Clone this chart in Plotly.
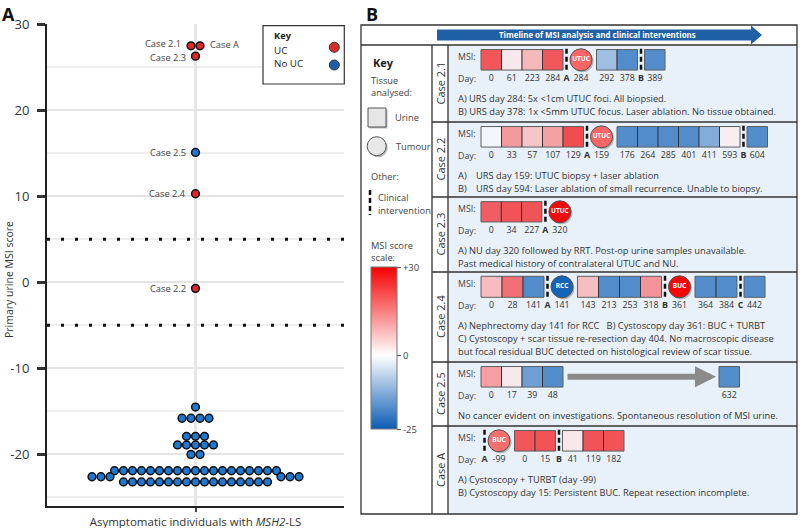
import plotly.graph_objects as go

W, H = 800, 528
FONT = "Open Sans"

# ---------------- Panel A data ----------------
case_labels = ["Case 2.1", "Case A", "Case 2.3", "Case 2.5", "Case 2.4", "Case 2.2"]
case_scores = [27.5, 27.5, 26.3, 15.1, 10.3, -0.7]
case_has_uc = [True, True, True, False, True, True]
cohort_scores = [
    -14.5,
    -15.8, -15.8, -15.8, -15.8,
    -17.9, -17.9, -17.9,
    -18.9, -18.9, -18.9, -18.9, -18.9,
    -20.0, -20.0,
    -21.9, -21.9, -21.9, -21.9, -21.9, -21.9, -21.9, -21.9, -21.9, -21.9,
    -21.9, -21.9, -21.9, -21.9, -21.9, -21.9, -21.9, -21.9, -21.9,
    -22.6, -22.6, -22.6, -22.6, -22.6, -22.6,
    -23.2, -23.2, -23.2, -23.2, -23.2, -23.2, -23.2, -23.2, -23.2,
    -23.2, -23.2, -23.2, -23.2, -23.2, -23.2, -23.2, -23.2,
]
threshold_lines = [5, -5]
y_range = [-26, 30]
y_ticks = [-20, -10, 0, 10, 20, 30]
x_tick_text = "Asymptomatic individuals with <i>MSH2</i>-LS"
y_title = "Primary urine MSI score"

# label placement style for the named cases (side, vertical nudge in px)
case_label_side = ["left", "right", "left", "left", "left", "left"]
case_label_nudge = [2, 1, -1, 0, 0, 0]

# ---------------- Panel B data ----------------
case_ids = ["Case 2.1", "Case 2.2", "Case 2.3", "Case 2.4", "Case 2.5", "Case A"]
# item kinds: U urine sample, T tumour sample, I clinical intervention, R gap arrow
kinds = [
    "UUUUITUUIU",
    "UUUUUITUUUUUUIU",
    "UUUIT",
    "UUUITUUUUITUUIU",
    "UUUURU",
    "ITUUIUUU",
]
msi = [
    [27.5, 3, 11, 27, None, 18, -13, -24, None, -24],
    [-0.7, 16, 9, 15, 29, None, 18, -24, -24, -24, -24, -17, 2, None, -24],
    [26.3, 28, 28, None, 29],
    [10.3, 23, -24, None, -24, 10, -24, -24, 17, None, 29, -24, -24, None, -24],
    [15.1, 3, -20, -24, None, -24],
    [None, 17, 27.5, 28, None, 3, 28, 28],
]
days = [
    ["0", "61", "223", "284", "A", "284", "292", "378", "B", "389"],
    ["0", "33", "57", "107", "129", "A", "159", "176", "264", "285", "401", "411", "593", "B", "604"],
    ["0", "34", "227", "A", "320"],
    ["0", "28", "141", "A", "141", "143", "213", "253", "318", "B", "361", "364", "384", "C", "442"],
    ["0", "17", "39", "48", "", "632"],
    ["A", "-99", "0", "15", "B", "41", "119", "182"],
]
tumour_types = [["UTUC"], ["UTUC"], ["UTUC"], ["RCC", "BUC"], [], ["BUC"]]
notes = [
    ["A) URS day 284: 5x &lt;1cm UTUC foci. All biopsied.",
     "B) URS day 378: 1x &lt;5mm UTUC focus. Laser ablation. No tissue obtained."],
    ["A)\tURS day 159: UTUC biopsy + laser ablation",
     "B)\tURS day 594: Laser ablation of small recurrence. Unable to biopsy."],
    ["A) NU day 320 followed by RRT. Post-op urine samples unavailable.",
     "Past medical history of contralateral UTUC and NU."],
    ["A) Nephrectomy day 141 for RCC   B) Cystoscopy day 361: BUC + TURBT",
     "C) Cystoscopy + scar tissue re-resection day 404. No macroscopic disease",
     "but focal residual BUC detected on histological review of scar tissue."],
    ["No cancer evident on investigations. Spontaneous resolution of MSI urine."],
    ["A) Cystoscopy + TURBT (day -99)",
     "B) Cystoscopy day 15: Persistent BUC. Repeat resection incomplete."],
]
msi_scale = [-25, 0, 30]
msi_scale_text = ["-25", "0", "+30"]

# ---------------- Layout geometry (pixels) ----------------
A_left, A_right, A_top, A_bottom = 47, 344, 24.3, 506
B_left, B_top, B_right, B_bottom = 361, 25, 797, 514
row_tops = [45, 122, 197, 272, 362, 426]
row_box_w = [20.5, 20.5, 20.3, 21, 20.5, 20.5]
key_col_x, case_col_x = 432, 448

# ---------------- Beeswarm offsets (panel A) ----------------
ppu_y = (A_bottom - A_top) / (y_range[1] - y_range[0])
x_half_px = (A_right - A_left) / 2
SLOT, MIN_D = 9.0, 7.2
all_scores = case_scores + cohort_scores
groups = {}
for i, v in enumerate(all_scores):
    groups.setdefault(v, []).append(i)
order = sorted(groups, key=lambda v: (-len(groups[v]), v))
placed = []
offsets = [0.0] * len(all_scores)


def fits(xs, ypx):
    for x in xs:
        for px, py in placed:
            if (x - px) ** 2 + (ypx - py) ** 2 < MIN_D ** 2:
                return False
    return True


for v in order:
    idx = groups[v]
    n = len(idx)
    ypx = -v * ppu_y
    xs = [(k - (n - 1) / 2) * SLOT for k in range(n)]
    if not fits(xs, ypx):
        s = SLOT / 2
        while True:
            nl = n // 2
            nr = n - nl
            xs = [-(s + k * SLOT) for k in range(nl)] + [s + k * SLOT for k in range(nr)]
            if fits(xs, ypx):
                break
            s += SLOT / 2
    for i, x in zip(idx, xs):
        offsets[i] = x / x_half_px
        placed.append((x, ypx))

case_x = offsets[:len(case_scores)]
cohort_x = offsets[len(case_scores):]

RED, BLUE = "#e0262a", "#1f77d0"
fig = go.Figure()

uc_idx = [i for i, u in enumerate(case_has_uc) if u]
nouc_idx = [i for i, u in enumerate(case_has_uc) if not u]
mk = dict(size=7.8, line=dict(color="#111", width=1.5))

fig.add_trace(go.Scatter(
    x=cohort_x, y=cohort_scores, mode="markers", xaxis="x", yaxis="y",
    marker=dict(color=BLUE, **mk), hoverinfo="skip", showlegend=False))
fig.add_trace(go.Scatter(
    x=[case_x[i] for i in nouc_idx], y=[case_scores[i] for i in nouc_idx], mode="markers",
    xaxis="x", yaxis="y", marker=dict(color=BLUE, **mk), hoverinfo="skip", showlegend=False))
fig.add_trace(go.Scatter(
    x=[case_x[i] for i in uc_idx], y=[case_scores[i] for i in uc_idx], mode="markers",
    xaxis="x", yaxis="y", marker=dict(color=RED, **mk), hoverinfo="skip", showlegend=False))

shapes = []
annotations = []

for lab, cx, cs, side, nud in zip(case_labels, case_x, case_scores, case_label_side, case_label_nudge):
    annotations.append(dict(x=cx, y=cs, xref="x", yref="y", text=lab, showarrow=False,
                            xanchor="right" if side == "left" else "left", yanchor="middle",
                            xshift=-8 if side == "left" else 8, yshift=nud,
                            font=dict(size=9.3, color="#444", family=FONT)))

for t in threshold_lines:
    shapes.append(dict(type="line", xref="x domain", yref="y", x0=0, x1=1, y0=t, y1=t,
                       line=dict(color="#111", width=3, dash="3px,11px"), layer="above"))


def text(x, y, s, size=9.3, color="#333", xanchor="left", angle=0, yanchor="middle"):
    annotations.append(dict(x=x, y=y, xref="x2", yref="y2", text=s, showarrow=False,
                            xanchor=xanchor, yanchor=yanchor, textangle=angle,
                            font=dict(size=size, color=color, family=FONT)))


# Panel labels and Y title
text(8, 0, "<b>A</b>", size=18, color="#111", xanchor="center", yanchor="top")
text(372, 0, "<b>B</b>", size=18, color="#111", xanchor="center", yanchor="top")
text(9, 280, y_title, size=10.5, color="#333", xanchor="center", angle=-90)

# Panel A key
shapes.append(dict(type="rect", xref="x2", yref="y2", x0=263, x1=344.3, y0=25.7, y1=84,
                   line=dict(color="#333", width=1.2), fillcolor="white", layer="above"))
text(271.5, 35.7, "<b>Key</b>", size=9.3, color="#222")
text(271.5, 50.7, "UC", size=9.8, color="#222")
text(271.5, 63.3, "No UC", size=9.8, color="#222")
for cy, col in [(47.3, "#d32f2f"), (65, "#1d5ea8")]:
    shapes.append(dict(type="circle", xref="x2", yref="y2", x0=329.3, x1=339.3, y0=cy - 5, y1=cy + 5,
                       fillcolor=col, line=dict(color="#333", width=1), layer="above"))

# ---------------- Panel B frame ----------------
shapes.append(dict(type="rect", xref="x2", yref="y2", x0=case_col_x, x1=B_right, y0=row_tops[0], y1=B_bottom,
                   fillcolor="#e8f0fa", line=dict(width=0), layer="below"))
shapes.append(dict(type="rect", xref="x2", yref="y2", x0=B_left, x1=B_right, y0=B_top, y1=B_bottom,
                   line=dict(color="#333", width=1.3), layer="below"))
shapes.append(dict(type="line", xref="x2", yref="y2", x0=B_left, x1=B_right, y0=row_tops[0], y1=row_tops[0],
                   line=dict(color="#333", width=1.3), layer="below"))
for xv in (key_col_x, case_col_x):
    shapes.append(dict(type="line", xref="x2", yref="y2", x0=xv, x1=xv, y0=row_tops[0], y1=B_bottom,
                       line=dict(color="#333", width=1.3), layer="below"))
for yt in row_tops[1:]:
    shapes.append(dict(type="line", xref="x2", yref="y2", x0=key_col_x, x1=B_right, y0=yt, y1=yt,
                       line=dict(color="#333", width=1.3), layer="below"))

# Header arrow
shapes.append(dict(type="path", xref="x2", yref="y2",
                   path="M437,29.5 L751,29.5 L751,25.5 L762,35 L751,44.5 L751,40.5 L437,40.5 Z",
                   fillcolor="#1f5fa6", line=dict(width=0), layer="below"))
text(597, 35, "<b>Timeline of MSI analysis and clinical interventions</b>", size=7.9, color="white",
     xanchor="center")

# Key column of panel B
text(371, 62, "<b>Key</b>", size=11, color="#222")
text(368.5, 80, "Tissue", size=9.3, color="#444")
text(368.5, 92.3, "analysed:", size=9.3, color="#444")
shapes.append(dict(type="rect", xref="x2", yref="y2", x0=369.5, x1=387.5, y0=109.5, y1=128.5,
                   fillcolor="#b8b8b8", line=dict(width=0), layer="below"))
shapes.append(dict(type="rect", xref="x2", yref="y2", x0=368, x1=386, y0=108, y1=127,
                   fillcolor="#e6e6e6", line=dict(color="#555", width=1), layer="below"))
text(393, 117.3, "Urine", size=9.3, color="#444")
shapes.append(dict(type="circle", xref="x2", yref="y2", x0=368.7, x1=387.7, y0=138.2, y1=157.2,
                   fillcolor="#b8b8b8", line=dict(width=0), layer="below"))
shapes.append(dict(type="circle", xref="x2", yref="y2", x0=367.2, x1=386.2, y0=136.7, y1=155.7,
                   fillcolor="#e8e8e8", line=dict(color="#555", width=1), layer="below"))
text(393.5, 146, "Tumour", size=9.3, color="#444")
text(368.5, 176, "Other:", size=9.3, color="#444")
shapes.append(dict(type="line", xref="x2", yref="y2", x0=370, x1=370, y0=190, y1=215,
                   line=dict(color="#111", width=2.5, dash="5px,3px"), layer="below"))
text(375.5, 197.7, "Clinical", size=9.3, color="#444")
text(375.5, 210.7, "intervention", size=9.3, color="#444")
text(368.5, 245, "MSI score", size=9.3, color="#444")
text(368.5, 257.3, "scale:", size=9.3, color="#444")

# ---------------- Panel B rows ----------------
SPACING = {"U": (0, None, 0), "I": (3.5, 0, 3.5), "T": (0, 22, 4.5), "R": (3, 150, 3)}

box_x, box_y, box_c, box_s = [], [], [], []
tum_x, tum_y, tum_c, tum_t = [], [], [], []
day_x, day_y, day_t = [], [], []

for r, cid in enumerate(case_ids):
    top = row_tops[r]
    bottom = row_tops[r + 1] if r + 1 < len(row_tops) else B_bottom
    cy = top + 14.8
    dy = top + 33.5
    bw = row_box_w[r]
    text(440, (top + bottom) / 2, cid, size=11, color="#333", xanchor="center", angle=-90)
    text(455.5, cy - 3, "MSI:", size=8.8, color="#444")
    text(455.5, dy, "Day:", size=8.8, color="#444")
    x = 481
    tcount = 0
    for k, v, d in zip(kinds[r], msi[r], days[r]):
        lead, w, trail = SPACING[k]
        if w is None:
            w = bw
        x += lead
        cx = x + w / 2
        if k == "U":
            box_x.append(cx); box_y.append(cy); box_c.append(v); box_s.append(bw)
        elif k == "T":
            tum_x.append(cx); tum_y.append(cy); tum_c.append(v)
            tum_t.append("<b>%s</b>" % tumour_types[r][tcount]); tcount += 1
        elif k == "I":
            shapes.append(dict(type="line", xref="x2", yref="y2", x0=cx, x1=cx, y0=cy - 11, y1=cy + 13,
                               line=dict(color="#111", width=2.5, dash="5px,3px"), layer="below"))
        elif k == "R":
            annotations.append(dict(x=x + w, y=cy, ax=x, ay=cy, xref="x2", yref="y2", axref="x2", ayref="y2",
                                    text="", showarrow=True, arrowhead=2, arrowsize=0.7, arrowwidth=6,
                                    arrowcolor="#8a8a8a"))
        if d:
            day_x.append(cx); day_y.append(dy)
            day_t.append("<b>%s</b>" % d if k == "I" else d)
        x += w + trail
    for j, line in enumerate(notes[r]):
        ny = top + 53.5 + j * 12.8
        if "\t" in line:
            a, b = line.split("\t")
            text(455.5, ny, a)
            text(474, ny, b)
        else:
            text(455.5, ny, line)

fig.add_trace(go.Scatter(
    x=box_x, y=box_y, mode="markers", xaxis="x2", yaxis="y2",
    marker=dict(symbol="square", size=box_s, color=box_c, coloraxis="coloraxis",
                line=dict(color="#222", width=1)),
    hoverinfo="skip", showlegend=False))
fig.add_trace(go.Scatter(
    x=[v + 1.5 for v in tum_x], y=[v + 1.5 for v in tum_y], mode="markers", xaxis="x2", yaxis="y2",
    marker=dict(size=22, color="rgba(0,0,0,0.25)"), hoverinfo="skip", showlegend=False))
fig.add_trace(go.Scatter(
    x=tum_x, y=tum_y, mode="markers+text", xaxis="x2", yaxis="y2", text=tum_t,
    textposition="middle center", textfont=dict(size=6.5, color="white", family=FONT),
    marker=dict(size=22, color=tum_c, coloraxis="coloraxis", line=dict(color="#555", width=1)),
    hoverinfo="skip", showlegend=False))
fig.add_trace(go.Scatter(
    x=day_x, y=day_y, mode="text", xaxis="x2", yaxis="y2", text=day_t,
    textposition="middle center", textfont=dict(size=8.8, color="#333", family=FONT),
    hoverinfo="skip", showlegend=False))

fig.update_layout(
    width=W, height=H, margin=dict(l=0, r=0, t=0, b=0, pad=0, autoexpand=False),
    paper_bgcolor="white", plot_bgcolor="rgba(0,0,0,0)",
    font=dict(family=FONT, color="#333"),
    showlegend=False,
    xaxis=dict(domain=[A_left / W, A_right / W], range=[-1, 1], anchor="y", automargin=False,
               showline=True, linecolor="#222", linewidth=2, mirror=False,
               ticks="outside", ticklen=4, tickwidth=2, tickcolor="#444",
               tickvals=[0], ticktext=[x_tick_text], tickfont=dict(size=11.5, color="#333"),
               showgrid=True, gridcolor="#e6e6e6", gridwidth=2.5, zeroline=False, fixedrange=True),
    yaxis=dict(domain=[1 - A_bottom / H, 1 - A_top / H], range=y_range, anchor="x", automargin=False,
               showline=True, linecolor="#222", linewidth=2,
               ticks="outside", ticklen=8, tickwidth=2.5, tickcolor="#333",
               tickvals=y_ticks, ticktext=[str(t) for t in y_ticks],
               tickfont=dict(size=13, color="#333"), ticklabelstandoff=5,
               showgrid=True, gridcolor="#e4e4e4", gridwidth=2, zeroline=False,
               minor=dict(dtick=5, tick0=0, showgrid=True, gridcolor="#eeeeee", gridwidth=1.5),
               fixedrange=True),
    xaxis2=dict(domain=[0, 1], range=[0, W], anchor="y2", visible=False, fixedrange=True, automargin=False),
    yaxis2=dict(domain=[0, 1], range=[H, 0], anchor="x2", visible=False, fixedrange=True, automargin=False),
    coloraxis=dict(
        cmin=msi_scale[0], cmax=msi_scale[-1],
        colorscale=[[0, "#0b5cb5"], [(0 - msi_scale[0]) / (msi_scale[-1] - msi_scale[0]), "#ffffff"], [1, "#f50000"]],
        colorbar=dict(x=370.7 / W, xanchor="left", y=1 - 267.3 / H, yanchor="top",
                      len=162 / H, lenmode="fraction", thickness=25.5, thicknessmode="pixels",
                      xpad=0, ypad=0, outlinewidth=1, outlinecolor="#777",
                      tickvals=msi_scale, ticktext=msi_scale_text, ticks="outside", ticklen=4,
                      tickcolor="#555", tickfont=dict(size=9.5, color="#444", family=FONT)),
    ),
    shapes=shapes,
    annotations=annotations,
)

post = ("var gd=document.getElementById('{plot_id}');"
        "document.documentElement.style.margin='0';document.body.style.margin='0';"
        "document.body.style.padding='0';document.documentElement.style.overflow='hidden';"
        "gd.style.position='absolute';gd.style.left='0px';gd.style.top='0px';")
fig.write_html("out.html", config={"displayModeBar": False}, post_script=post)
